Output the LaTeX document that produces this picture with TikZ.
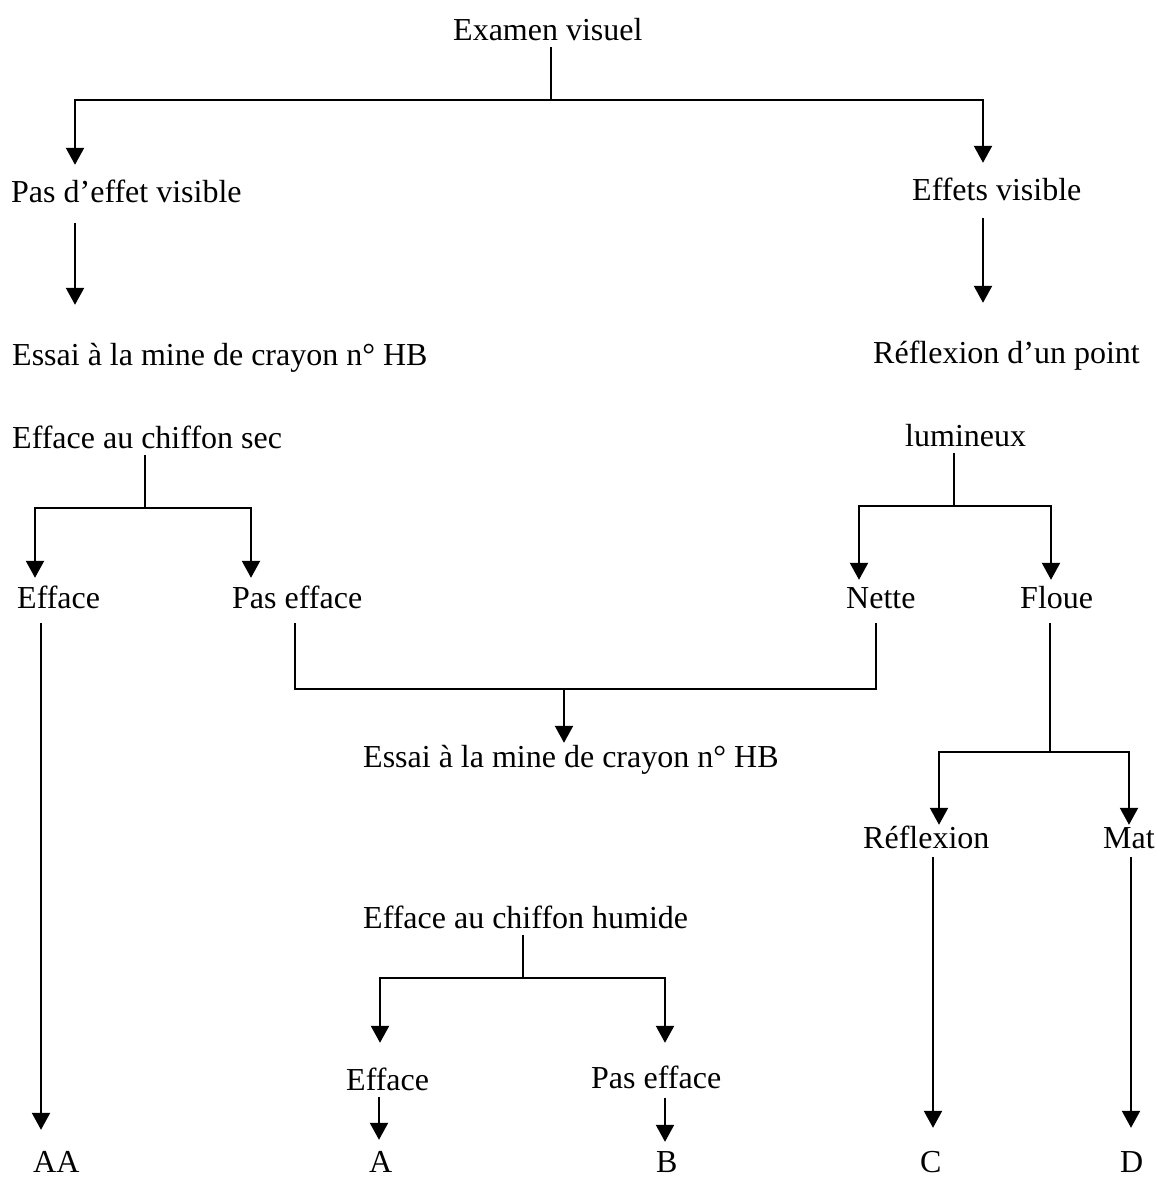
\documentclass[tikz,border=0pt]{standalone}
\usepackage{fontspec}
\setmainfont{Liberation Serif}
\usetikzlibrary{arrows.meta,calc}
\tikzset{
  txt/.style={inner sep=0pt, anchor=base west, text height=23pt, text depth=7pt,
              font=\fontsize{32}{38}\selectfont},
  lasttxt/.style={txt, text depth=0pt},
  ln/.style={line width=2.2pt, line join=miter},
  arr/.style={line width=2.2pt, line join=miter, -{Triangle[width=18pt,length=17pt]}}
}
\begin{document}
\begin{tikzpicture}[x=1pt,y=-1pt]
\useasboundingbox[fill=white] (0,0) rectangle (1156,1181);

% texts
\node[txt] (ex)  at (453,40)   {Examen visuel};
\node[txt] (pev) at (11,202)   {Pas d’effet visible};
\node[txt] (efv) at (912,200)  {Effets visible};
\node[txt] (es1) at (12,365)   {Essai à la mine de crayon n° HB};
\node[txt] (rpt) at (873,363)  {Réflexion d’un point};
\node[txt] (ecs) at (12,448)   {Efface au chiffon sec};
\node[txt] (lum) at (905,446)  {lumineux};
\node[txt] (ef1) at (17,608)   {Efface};
\node[txt] (pe1) at (232,608)  {Pas efface};
\node[txt] (net) at (846,608)  {Nette};
\node[txt] (flo) at (1020,608) {Floue};
\node[txt] (es2) at (363,767)  {Essai à la mine de crayon n° HB};
\node[txt] (ref) at (863,848)  {Réflexion};
\node[txt] (mat) at (1103,848) {Mat};
\node[txt] (ech) at (363,928)  {Efface au chiffon humide};
\node[txt] (ef2) at (346,1090) {Efface};
\node[txt] (pe2) at (591,1088) {Pas efface};
\node[lasttxt] (rAA) at (33,1172)  {AA};
\node[lasttxt] (rA)  at (369,1172) {A};
\node[lasttxt] (rB)  at (656,1172) {B};
\node[lasttxt] (rC)  at (920,1172) {C};
\node[lasttxt] (rD)  at (1120,1172){D};

% junction points
\coordinate (j0)  at (551,100);
\coordinate (b0l) at (75,100);
\coordinate (b0r) at (983,100);
\coordinate (j1)  at (145,508);
\coordinate (b1l) at (35,508);
\coordinate (b1r) at (251,508);
\coordinate (j2)  at (954,506);
\coordinate (b2l) at (859,506);
\coordinate (b2r) at (1051,506);
\coordinate (p1)  at (295,689);
\coordinate (p2)  at (876,689);
\coordinate (pm)  at (564,689);
\coordinate (j3)  at (1050,752);
\coordinate (b3l) at (939,752);
\coordinate (b3r) at (1129,752);
\coordinate (j4)  at (523,978);
\coordinate (b4l) at (380,978);
\coordinate (b4r) at (665,978);
\coordinate (xAA) at (41,0);
\coordinate (xC)  at (933,0);
\coordinate (xD)  at (1131,0);
\coordinate (xA)  at (379,0);
\coordinate (xB)  at (665,0);

% Examen visuel
\draw[ln] (ex.south -| j0) -- (j0);
\draw[arr] (j0) -- (b0l) -- ($(b0l |- pev.north)+(0,-14)$);
\draw[arr] (j0) -- (b0r) -- ($(b0r |- efv.north)+(0,-14)$);
% left column
\draw[arr] ($(b0l |- pev.south)+(0,14)$) -- ($(b0l |- es1.north)+(0,-37)$);
\draw[ln] (ecs.south -| j1) -- (j1);
\draw[arr] (j1) -- (b1l) -- ($(b1l |- ef1.north)+(0,-7)$);
\draw[arr] (j1) -- (b1r) -- ($(b1r |- pe1.north)+(0,-7)$);
\draw[arr] ($(xAA |- ef1.south)+(0,8)$) -- ($(xAA |- rAA.north)+(0,-19)$);
% right column
\draw[arr] ($(b0r |- efv.south)+(0,11)$) -- ($(b0r |- rpt.north)+(0,-37)$);
\draw[ln] (lum.south -| j2) -- (j2);
\draw[arr] (j2) -- (b2l) -- ($(b2l |- net.north)+(0,-5)$);
\draw[arr] (j2) -- (b2r) -- ($(b2r |- flo.north)+(0,-5)$);
% merge Pas efface / Nette
\draw[ln] ($(p1 |- pe1.south)+(0,8)$) -- (p1) -- (p2) -- ($(p2 |- net.south)+(0,8)$);
\draw[arr] (pm) -- ($(pm |- es2.north)+(0,-1)$);
% Floue
\draw[ln] ($(j3 |- flo.south)+(0,8)$) -- (j3);
\draw[arr] (j3) -- (b3l) -- ($(b3l |- ref.north)+(0,0)$);
\draw[arr] (j3) -- (b3r) -- ($(b3r |- mat.north)+(0,0)$);
\draw[arr] ($(xC |- ref.south)+(0,2)$) -- ($(xC |- rC.north)+(0,-21)$);
\draw[arr] ($(xD |- mat.south)+(0,2)$) -- ($(xD |- rD.north)+(0,-21)$);
% chiffon humide
\draw[ln] (ech.south -| j4) -- (j4);
\draw[arr] (j4) -- (b4l) -- ($(b4l |- ef2.north)+(0,-24)$);
\draw[arr] (j4) -- (b4r) -- ($(b4r |- pe2.north)+(0,-22)$);
\draw[arr] (ef2.south -| xA) -- ($(xA |- rA.north)+(0,-9)$);
\draw[arr] ($(xB |- pe2.south)+(0,3)$) -- ($(xB |- rB.north)+(0,-7)$);
\end{tikzpicture}
\end{document}
